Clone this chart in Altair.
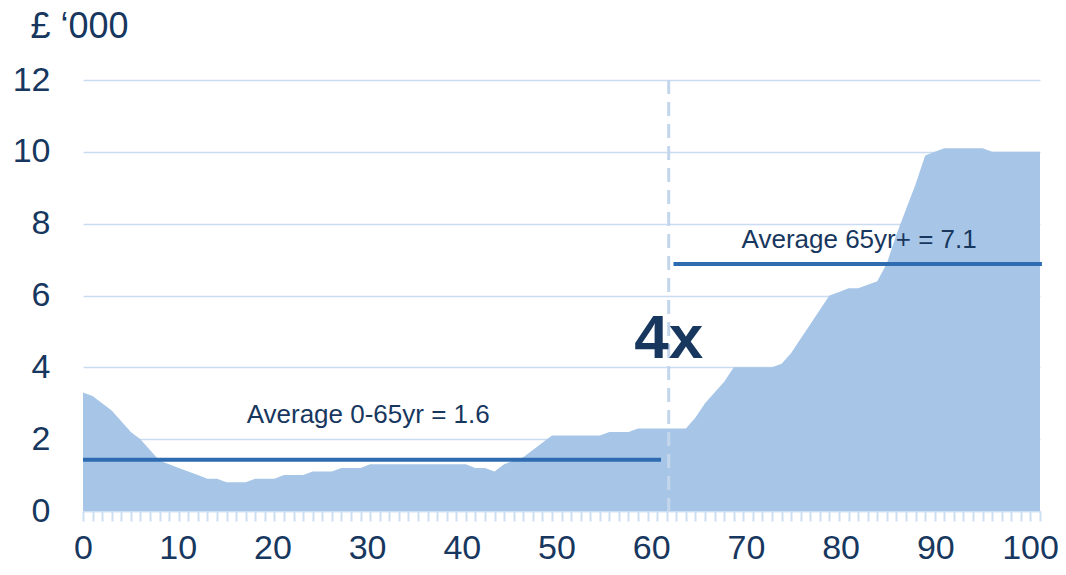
import altair as alt
import pandas as pd

# Data
ages = list(range(101))
cost = [
    3.3, 3.2, 3.0, 2.8, 2.5, 2.2, 2.0, 1.7, 1.4, 1.3,   # 0-9
    1.2, 1.1, 1.0, 0.9, 0.9, 0.8, 0.8, 0.8, 0.9, 0.9,   # 10-19
    0.9, 1.0, 1.0, 1.0, 1.1, 1.1, 1.1, 1.2, 1.2, 1.2,   # 20-29
    1.3, 1.3, 1.3, 1.3, 1.3, 1.3, 1.3, 1.3, 1.3, 1.3,   # 30-39
    1.3, 1.2, 1.2, 1.1, 1.3, 1.4, 1.5, 1.7, 1.9, 2.1,   # 40-49
    2.1, 2.1, 2.1, 2.1, 2.1, 2.2, 2.2, 2.2, 2.3, 2.3,   # 50-59
    2.3, 2.3, 2.3, 2.3, 2.6, 3.0, 3.3, 3.6, 4.0, 4.0,   # 60-69
    4.0, 4.0, 4.0, 4.1, 4.4, 4.8, 5.2, 5.6, 6.0, 6.1,   # 70-79
    6.2, 6.2, 6.3, 6.4, 6.9, 7.7, 8.4, 9.1, 9.9, 10.0,  # 80-89
    10.1, 10.1, 10.1, 10.1, 10.1, 10.0, 10.0, 10.0, 10.0, 10.0,  # 90-99
    10.0,                                               # 100
]

avg_labels = ["Average 0-65yr = 1.6", "Average 65yr+ = 7.1"]
avg_start = [0, 61.7]
avg_end = [60.4, 100.2]
avg_level = [1.43, 6.88]
avg_label_x = [29.8, 81.1]
avg_label_y = [2.45, 7.33]

split_age = [61.2]
ratio_label = ["4x"]
ratio_y = [4.26]

x_ticks = list(range(101))
y_ticks = [0, 2, 4, 6, 8, 10, 12]

NAVY = "#17375e"
FONT = "Liberation Sans"

df = pd.DataFrame({"age": ages, "cost": cost})
avg_df = pd.DataFrame({"label": avg_labels, "x": avg_start, "x2": avg_end,
                       "y": avg_level, "lx": avg_label_x, "ly": avg_label_y})
split_df = pd.DataFrame({"age": split_age, "label": ratio_label, "y": ratio_y})

xscale = alt.Scale(domain=[0, 100], nice=False, zero=False)
yscale = alt.Scale(domain=[0, 12], nice=False)

area = alt.Chart(df).mark_area(color="#a7c6e7", opacity=1, interpolate="linear").encode(
    x=alt.X("age:Q", scale=xscale,
            axis=alt.Axis(values=x_ticks, tickCount=200, title=None, grid=False,
                          format="d",
                          labelExpr="datum.value % 10 == 0 ? datum.label : ''",
                          labelOverlap=False, labelFlush=False, labelBound=False,
                          labelFontSize=34, labelColor=NAVY, labelFont=FONT,
                          labelPadding=10,
                          labelOffset=alt.ExprRef("-datum.value * 0.1"),
                          tickSize=10, tickWidth=2, tickColor="#cddff3",
                          domainColor="#cddff3", domainWidth=1.5)),
    y=alt.Y("cost:Q", scale=yscale,
            axis=alt.Axis(values=y_ticks, title="£ ‘000", titleAngle=0,
                          titleAlign="left", titleBaseline="alphabetic",
                          titleX=-53, titleY=-43, titleFontSize=36,
                          titleFontWeight="normal", titleColor=NAVY, titleFont=FONT,
                          labelFontSize=34, labelColor=NAVY, labelFont=FONT,
                          labelPadding=33, ticks=False, domain=False,
                          grid=True, gridColor="#c9dcf2", gridWidth=1.5)),
)

vline = alt.Chart(split_df).mark_rule(color="#c4d6ec", strokeWidth=3,
                                      strokeDash=[14, 8]).encode(
    x=alt.X("age:Q", scale=xscale),
    y=alt.value(0),
    y2=alt.value(431),
)

avg_rules = alt.Chart(avg_df).mark_rule(color="#2e6bb0", strokeWidth=4).encode(
    x=alt.X("x:Q", scale=xscale),
    x2="x2:Q",
    y=alt.Y("y:Q", scale=yscale),
)

avg_text = alt.Chart(avg_df).mark_text(font=FONT, fontSize=26, color=NAVY,
                                       align="center", baseline="alphabetic").encode(
    x=alt.X("lx:Q", scale=xscale),
    y=alt.Y("ly:Q", scale=yscale),
    text="label:N",
)

ratio_text = alt.Chart(split_df).mark_text(font=FONT, fontSize=62, fontWeight="bold",
                                           color=NAVY, align="center",
                                           baseline="alphabetic").encode(
    x=alt.X("age:Q", scale=xscale),
    y=alt.Y("y:Q", scale=yscale),
    text="label:N",
)

chart = alt.layer(area, vline, avg_rules, avg_text, ratio_text).properties(
    width=957, height=431,
    autosize="none",
    padding={"left": 83, "top": 80, "right": 26, "bottom": 64},
    background="white",
).configure_view(stroke=None)

chart.save("out.html", embed_options={"renderer": "svg", "actions": False})
